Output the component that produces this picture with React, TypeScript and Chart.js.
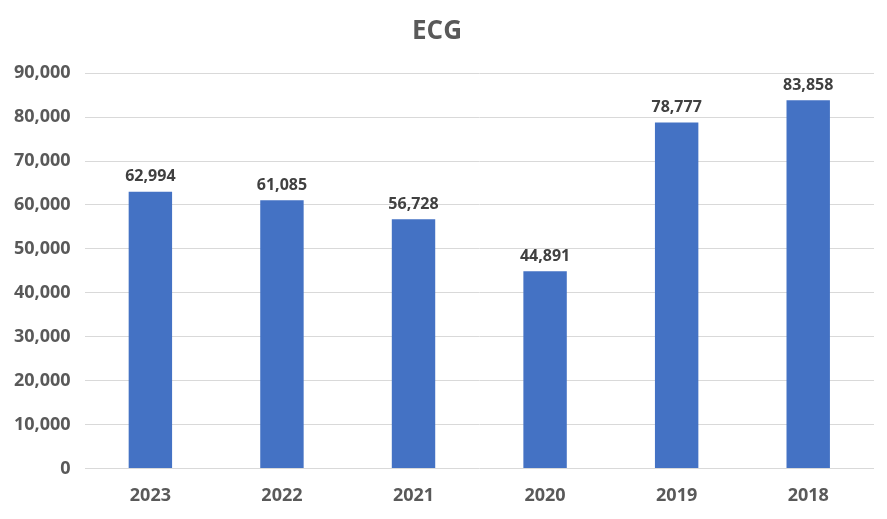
import React, { useEffect, useRef } from "react";
import { Chart, registerables } from "chart.js";

Chart.register(...registerables);

const categories = ["2023", "2022", "2021", "2020", "2019", "2018"];
const values = [62994, 61085, 56728, 44891, 78777, 83858];
const chartTitle = "ECG";

const FONT = "'Open Sans', 'DejaVu Sans', sans-serif";

const valueLabels = {
  id: "valueLabels",
  afterDatasetsDraw(chart: any) {
    const ctx = chart.ctx;
    const meta = chart.getDatasetMeta(0);
    ctx.save();
    ctx.font = `bold 16px ${FONT}`;
    ctx.fillStyle = "#404040";
    ctx.textAlign = "center";
    ctx.textBaseline = "bottom";
    meta.data.forEach((bar: any, i: number) => {
      const v = chart.data.datasets[0].data[i] as number;
      ctx.fillText(v.toLocaleString("en-US"), bar.x, bar.y - 7);
    });
    ctx.restore();
  },
};

export default function App() {
  const ref = useRef<HTMLCanvasElement>(null);
  useEffect(() => {
    document.body.style.margin = "0";
    const chart = new Chart(ref.current!, {
      type: "bar",
      data: {
        labels: categories,
        datasets: [
          {
            data: values,
            backgroundColor: "#4472C4",
            barPercentage: 0.33,
            categoryPercentage: 1,
          },
        ],
      },
      options: {
        animation: false,
        responsive: false,
        maintainAspectRatio: false,
        layout: { padding: { left: 0, right: 13, top: 0, bottom: 3 } },
        plugins: {
          legend: { display: false },
          tooltip: { enabled: false },
          title: {
            display: true,
            text: chartTitle,
            color: "#595959",
            font: { family: FONT, size: 26, weight: "bold" },
            padding: { top: 16, bottom: 26 },
          },
        },
        scales: {
          x: {
            grid: { display: false },
            border: { display: false },
            ticks: {
              color: "#595959",
              font: { family: FONT, size: 18, weight: "bold" },
              padding: 9,
            },
          },
          y: {
            min: 0,
            max: 90000,
            grid: { color: "#d9d9d9", drawTicks: false },
            border: { display: false },
            ticks: {
              stepSize: 10000,
              color: "#595959",
              padding: 14,
              font: { family: FONT, size: 18, weight: "bold" },
              callback: (v: any) => Number(v).toLocaleString("en-US"),
            },
          },
        },
      },
      plugins: [valueLabels],
    });
    return () => chart.destroy();
  }, []);
  return (
    <div style={{ width: 887, height: 519, background: "#fff" }}>
      <canvas ref={ref} width={887} height={519} />
    </div>
  );
}
